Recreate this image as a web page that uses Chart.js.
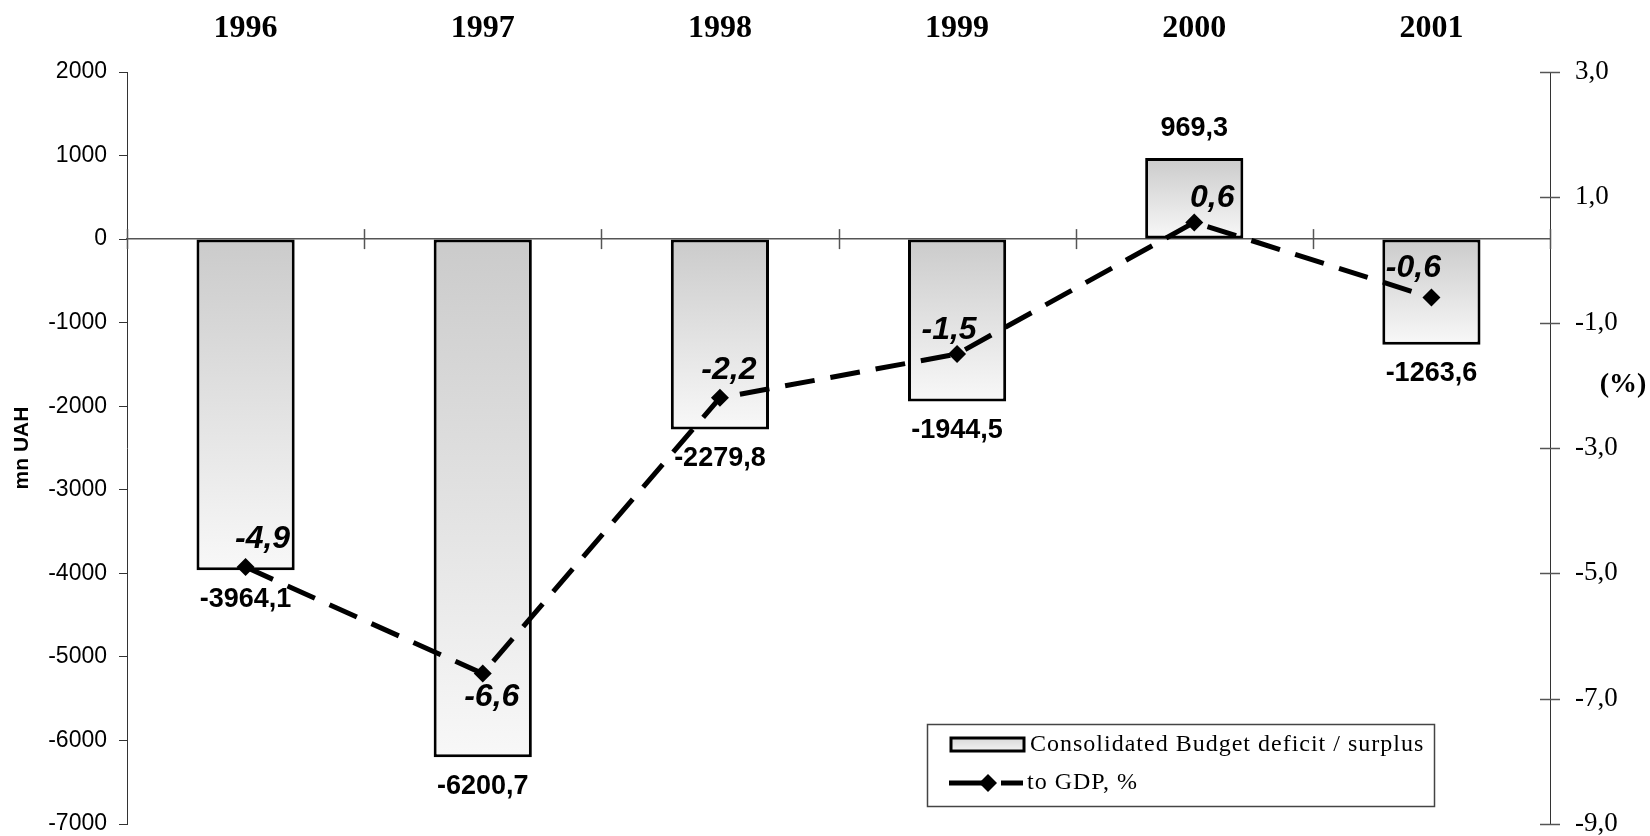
<!DOCTYPE html>
<html>
<head>
<meta charset="utf-8">
<script src="https://cdn.jsdelivr.net/npm/chart.js@4.4.0/dist/chart.umd.min.js"></script>
<style>
html, body { margin: 0; padding: 0; background: #fff; }
</style>
</head>
<body>
<canvas id="myChart" width="1650" height="836"></canvas>
<script>
// data
const years = ['1996', '1997', '1998', '1999', '2000', '2001'];
const budgetBalance = [-3964.1, -6200.7, -2279.8, -1944.5, 969.3, -1263.6]; // mn UAH
const toGdp = [-4.9, -6.6, -2.2, -1.5, 0.6, -0.6]; // %
const leftMin = -7000, leftMax = 2000, leftStep = 1000;
const rightMin = -9, rightMax = 3, rightStep = 2;

// where the italic % labels sit relative to their point
const gdpLabelShift = [[17, -28], [9, 24], [9, -28], [-8, -24], [18, -24], [-18, -29]];

const fmt = v => v.toFixed(1).replace('.', ',');

function barFill(c) {
    const chart = c.chart;
    if (!chart.chartArea || c.type !== 'data') return '#e2e2e2';
    const ys = chart.scales.y;
    const top = ys.getPixelForValue(Math.max(c.raw, 0));
    const bot = ys.getPixelForValue(Math.min(c.raw, 0));
    const g = chart.ctx.createLinearGradient(0, top, 0, bot);
    g.addColorStop(0, '#cbcbcb');
    g.addColorStop(1, '#f8f8f8');
    return g;
}

function seg(ctx, x1, y1, x2, y2) {
    ctx.beginPath();
    ctx.moveTo(x1, y1);
    ctx.lineTo(x2, y2);
    ctx.stroke();
}

// the tick padding would otherwise eat into the plot height
function noVerticalPadding(s) {
    s.paddingTop = 0;
    s.paddingBottom = 0;
}

const extras = {
    id: 'extras',
    afterDatasetsDraw(chart) {
        const ctx = chart.ctx;
        const area = chart.chartArea;
        const ys = chart.scales.y, y1s = chart.scales.y1;
        const y0 = ys.getPixelForValue(0);
        ctx.save();

        // crossing tick marks on the zero line and the right axis
        ctx.strokeStyle = '#555';
        ctx.lineWidth = 1.5;
        const n = years.length, w = (area.right - area.left) / n;
        for (let i = 0; i <= n; i++) {
            const px = Math.round(area.left + i * w) + 0.5;
            seg(ctx, px, y0 - 10, px, y0 + 10);
        }
        y1s.ticks.forEach(t => {
            const py = Math.round(y1s.getPixelForValue(t.value)) + 0.5;
            seg(ctx, area.right - 10, py, area.right + 10, py);
        });

        // bar value labels
        ctx.fillStyle = '#000';
        ctx.textAlign = 'center';
        ctx.textBaseline = 'middle';
        ctx.font = 'bold 27px "Liberation Sans", Arial, sans-serif';
        chart.getDatasetMeta(1).data.forEach((el, i) => {
            const v = budgetBalance[i];
            const ly = v < 0 ? el.y + 29 : el.y - 30;
            ctx.fillText(fmt(v), el.x, ly);
        });

        // % labels
        ctx.font = 'italic bold 32px "Liberation Sans", Arial, sans-serif';
        chart.getDatasetMeta(0).data.forEach((el, i) => {
            const s = gdpLabelShift[i];
            ctx.fillText(fmt(toGdp[i]), el.x + s[0], el.y + s[1]);
        });

        // right axis title
        ctx.font = 'bold 28px "Liberation Serif", "Times New Roman", serif';
        ctx.fillText('(%)', area.right + 73, area.top + 313);

        // legend box
        const lx = area.left + 800, ly = area.bottom - 100;
        ctx.strokeStyle = '#444';
        ctx.lineWidth = 1.5;
        ctx.strokeRect(lx + 0.5, ly + 0.5, 507, 82);

        const g = ctx.createLinearGradient(0, ly + 14, 0, ly + 28);
        g.addColorStop(0, '#d8d8d8');
        g.addColorStop(1, '#f4f4f4');
        ctx.fillStyle = g;
        ctx.fillRect(lx + 24, ly + 14, 73, 13);
        ctx.strokeStyle = '#000';
        ctx.lineWidth = 3;
        ctx.strokeRect(lx + 24, ly + 14, 73, 13);

        ctx.lineWidth = 5;
        seg(ctx, lx + 22, ly + 59, lx + 58, ly + 59);
        seg(ctx, lx + 74, ly + 59, lx + 96, ly + 59);
        ctx.fillStyle = '#000';
        ctx.beginPath();
        ctx.moveTo(lx + 61, ly + 50);
        ctx.lineTo(lx + 70, ly + 59);
        ctx.lineTo(lx + 61, ly + 68);
        ctx.lineTo(lx + 52, ly + 59);
        ctx.closePath();
        ctx.fill();

        ctx.textAlign = 'left';
        ctx.letterSpacing = '1px';
        ctx.font = '24px "Liberation Serif", "Times New Roman", serif';
        ctx.fillText('Consolidated Budget deficit / surplus', lx + 103, ly + 21);
        ctx.fillText('to GDP, %', lx + 100, ly + 59);

        ctx.restore();
    }
};

const ctx = document.getElementById('myChart').getContext('2d');
const myChart = new Chart(ctx, {
    type: 'bar',
    data: {
        labels: years,
        datasets: [{
            type: 'line',
            label: 'to GDP, %',
            data: toGdp,
            yAxisID: 'y1',
            xAxisID: 'x',
            order: 0,
            borderColor: '#000',
            borderWidth: 5,
            borderDash: [30, 16],
            borderCapStyle: 'butt',
            tension: 0,
            fill: false,
            pointStyle: 'rectRot',
            pointRadius: 9,
            pointBackgroundColor: '#000',
            pointBorderWidth: 0
        }, {
            type: 'bar',
            label: 'Consolidated Budget deficit / surplus',
            data: budgetBalance,
            yAxisID: 'y',
            xAxisID: 'x',
            order: 1,
            backgroundColor: barFill,
            borderColor: '#000',
            borderWidth: 3,
            borderSkipped: false,
            barPercentage: 0.414,
            categoryPercentage: 1
        }]
    },
    options: {
        responsive: false,
        animation: false,
        layout: { padding: { top: 0, left: 0, right: 0, bottom: 12 } },
        plugins: {
            legend: { display: false },
            tooltip: { enabled: false }
        },
        scales: {
            x: {
                position: 'top',
                offset: true,
                grid: { display: false, drawTicks: false },
                border: { display: false },
                ticks: {
                    color: '#000',
                    padding: 24,
                    maxRotation: 0,
                    font: { family: '"Liberation Serif", "Times New Roman", serif', size: 32, weight: 'bold' }
                },
                afterFit: s => { s.height = 72; }
            },
            x2: {
                type: 'category',
                position: { y: 0 },
                offset: true,
                grid: { offset: true, drawOnChartArea: false, drawTicks: false },
                border: { display: true, color: '#555', width: 1.5 },
                ticks: { display: false },
                afterFit: s => { s.height = 0; }
            },
            y: {
                position: 'left',
                min: leftMin,
                max: leftMax,
                ticks: {
                    stepSize: leftStep,
                    color: '#000',
                    padding: 12,
                    callback: v => String(v),
                    font: { family: '"Liberation Sans", Arial, sans-serif', size: 23, lineHeight: 0.8 }
                },
                grid: { drawOnChartArea: false, drawTicks: true, tickLength: 8, color: '#333' },
                border: { color: '#333', width: 1 },
                title: {
                    display: true,
                    text: 'mn UAH',
                    color: '#000',
                    padding: { top: 10, bottom: 0 },
                    font: { family: '"Liberation Sans", Arial, sans-serif', size: 21, weight: 'bold' }
                },
                afterFit: s => { s.width = 127; noVerticalPadding(s); }
            },
            y1: {
                position: 'right',
                min: rightMin,
                max: rightMax,
                ticks: {
                    stepSize: rightStep,
                    color: '#000',
                    padding: 25,
                    callback: v => fmt(v),
                    font: { family: '"Liberation Serif", "Times New Roman", serif', size: 27, lineHeight: 0.8 }
                },
                grid: { drawOnChartArea: false, drawTicks: false },
                border: { color: '#333', width: 1 },
                afterFit: s => { s.width = 100; noVerticalPadding(s); }
            }
        }
    },
    plugins: [extras]
});
</script>
</body>
</html>
